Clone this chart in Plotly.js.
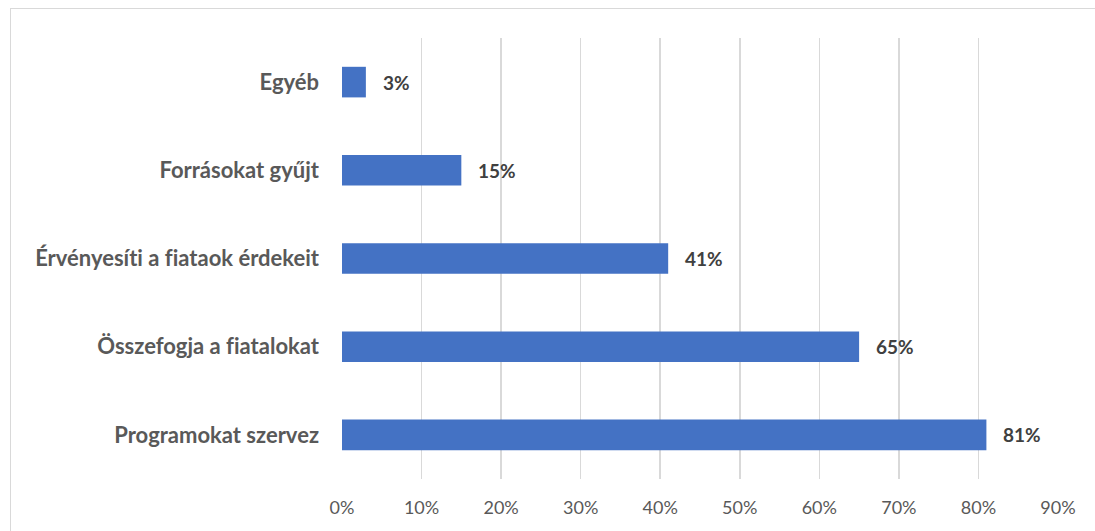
<!DOCTYPE html>
<html>
<head>
<meta charset="utf-8">
<script src="https://cdn.plot.ly/plotly-3.0.1.min.js"></script>
<style>
  html, body { margin: 0; padding: 0; background: #fff; }
  #wrap { position: relative; width: 1095px; height: 531px; }
  #frame { position: absolute; left: 10px; top: 8px; width: 1200px; height: 600px;
           border-left: 1.5px solid #d9d9d9; border-top: 1.5px solid #d9d9d9; pointer-events: none; }
  #chart { position: absolute; left: 0; top: 0; width: 1095px; height: 531px; }
  #chart text { font-variant-ligatures: none; font-feature-settings: "liga" 0; }
</style>
</head>
<body>
<div id="wrap">
  <div id="chart"></div>
  <div id="frame"></div>
</div>
<script>
const categories = ["Programokat szervez", "Összefogja a fiatalokat", "Érvényesíti a fiataok érdekeit", "Forrásokat gyűjt", "Egyéb"];
const values = [0.81, 0.65, 0.41, 0.15, 0.03];
const tickValues = [0, 0.1, 0.2, 0.3, 0.4, 0.5, 0.6, 0.7, 0.8, 0.9];
const tickLabels = ["0%", "10%", "20%", "30%", "40%", "50%", "60%", "70%", "80%", "90%"];

const fontFamily = "Lato, 'Open Sans', sans-serif";

const trace = {
  type: "bar",
  orientation: "h",
  y: categories,
  x: values,
  marker: { color: "#4472C4", line: { width: 0 } },
  width: 0.347,
  hoverinfo: "skip"
};

const annotations = values.map((v, i) => ({
  x: v, y: categories[i], xref: "x", yref: "y",
  text: Math.round(v * 100) + "%",
  showarrow: false, xanchor: "left", xshift: 15,
  font: { family: fontFamily, size: 19, color: "#404040", weight: "bold" }
}));

const layout = {
  width: 1095, height: 531,
  margin: { l: 342, r: 37, t: 38, b: 52, pad: 0 },
  paper_bgcolor: "#ffffff",
  plot_bgcolor: "#ffffff",
  showlegend: false,
  xaxis: {
    range: [0, 0.9],
    tickvals: tickValues,
    ticktext: tickLabels,
    showgrid: true, gridcolor: "#d9d9d9", gridwidth: 1.5,
    zeroline: false, showline: false, ticks: "",
    ticklabelstandoff: 16,
    tickfont: { family: fontFamily, size: 18, color: "#595959" },
    fixedrange: true
  },
  yaxis: {
    type: "category",
    categoryorder: "array", categoryarray: categories,
    showgrid: false, zeroline: false, showline: false, ticks: "",
    ticklabelstandoff: 22,
    tickfont: { family: fontFamily, size: 22, color: "#595959", weight: "bold" },
    fixedrange: true
  },
  annotations: annotations
};

Plotly.newPlot("chart", [trace], layout, { displayModeBar: false, staticPlot: true });
</script>
</body>
</html>
